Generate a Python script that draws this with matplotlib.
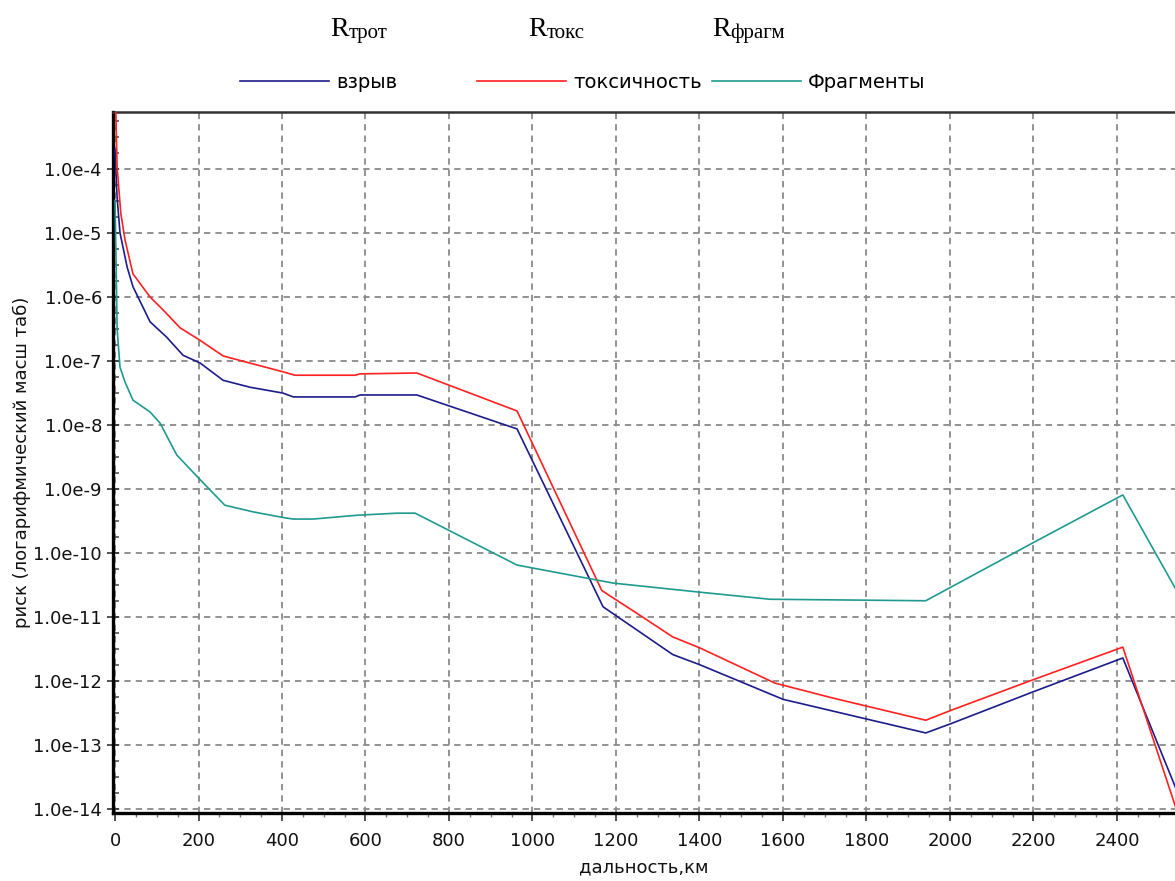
import numpy as np
import matplotlib
matplotlib.use("Agg")
import matplotlib.pyplot as plt
from matplotlib.ticker import MultipleLocator, FixedLocator, FuncFormatter

# дальность, км и риск по трём сценариям
dist_vzryv = [0, 5, 12, 29, 43, 84, 124, 163, 204, 259, 323, 402, 427, 575, 587, 723,
              963, 1169, 1336, 1401, 1600, 1760, 1942, 2005, 2199, 2414, 2540]
risk_vzryv = [2.0e-4, 3.6e-5, 1.0e-5, 2.95e-6, 1.45e-6, 4.1e-7, 2.35e-7, 1.23e-7, 9.3e-8,
              5.0e-8, 3.9e-8, 3.16e-8, 2.75e-8, 2.75e-8, 2.95e-8, 2.95e-8, 8.7e-9, 1.45e-11,
              2.6e-12, 1.8e-12, 5.2e-13, 2.95e-13, 1.55e-13, 2.2e-13, 6.8e-13, 2.3e-12, 2.2e-14]

dist_toks = [0, 2, 5, 14, 24, 43, 84, 115, 156, 204, 259, 323, 402, 431, 575, 587, 723,
             963, 1166, 1264, 1336, 1401, 1581, 1712, 1760, 1942, 2005, 2199, 2414, 2540]
risk_toks = [3.0e-3, 7.6e-4, 1.07e-4, 2.0e-5, 7.8e-6, 2.3e-6, 1.0e-6, 6.3e-7, 3.3e-7, 2.1e-7,
             1.2e-7, 9.3e-8, 6.8e-8, 6.0e-8, 6.0e-8, 6.3e-8, 6.5e-8, 1.66e-8, 2.6e-11, 1.0e-11,
             4.9e-12, 3.3e-12, 9.3e-13, 5.6e-13, 4.7e-13, 2.45e-13, 3.55e-13, 1.05e-12, 3.4e-12,
             1.1e-14]

dist_frag = [0, 3, 5, 12, 24, 43, 84, 108, 148, 204, 263, 331, 402, 427, 474, 580, 675, 719,
             963, 1193, 1401, 1569, 1942, 2199, 2414, 2540]
risk_frag = [3.2e-5, 2.5e-6, 3.2e-7, 8.0e-8, 4.7e-8, 2.45e-8, 1.6e-8, 1.07e-8, 3.4e-9, 1.4e-9,
             5.6e-10, 4.4e-10, 3.6e-10, 3.4e-10, 3.4e-10, 3.9e-10, 4.2e-10, 4.2e-10, 6.5e-11,
             3.4e-11, 2.45e-11, 1.9e-11, 1.8e-11, 1.45e-10, 8.1e-10, 2.8e-11]

series_names = ['взрыв', 'токсичность', 'Фрагменты']
series_colors = ['#1c1c8a', '#ff2020', '#1f9a90']
title_subs = ['трот', 'токс', 'фрагм']

W, H = 1175, 881
fig = plt.figure(figsize=(W / 100, H / 100), dpi=100)
ax = fig.add_axes([113 / W, 68 / H, (W - 113) / W, 701 / H])

ax.set_yscale('log')
ax.set_xlim(-4.8, 2539)
ax.set_ylim(10 ** -14.06, 10 ** -3.11)

lines = []
for xs, ys, c, n in zip([dist_vzryv, dist_toks, dist_frag],
                        [risk_vzryv, risk_toks, risk_frag],
                        series_colors, series_names):
    ln, = ax.plot(xs, ys, color=c, lw=1.2, label=n, zorder=3)
    lines.append(ln)

# сетка и оси
ax.set_axisbelow(True)
ax.grid(True, which='major', color='#8a8a8a', lw=1.3, linestyle=(0, (3.5, 2.8)))
ax.xaxis.set_major_locator(MultipleLocator(200))
ax.xaxis.set_minor_locator(MultipleLocator(50))
ax.yaxis.set_major_locator(FixedLocator([10.0 ** k for k in range(-14, -3)]))
minor = [10.0 ** v for v in np.arange(-14, -3, 0.25) if v % 1 != 0]
ax.yaxis.set_minor_locator(FixedLocator(minor))
ax.yaxis.set_major_formatter(FuncFormatter(lambda v, p: '1.0e%d' % round(np.log10(v))))
ax.yaxis.set_minor_formatter(FuncFormatter(lambda v, p: ''))

ax.tick_params(axis='both', which='major', labelsize=13, colors='#333333', labelcolor='#111111')
ax.tick_params(axis='y', which='major', direction='inout', length=8, width=1.2, pad=4)
ax.tick_params(axis='y', which='minor', direction='in', length=4, width=1.2, colors='#555555')
ax.tick_params(axis='x', which='major', direction='out', length=6, width=1.2, pad=8)
ax.tick_params(axis='x', which='minor', direction='out', length=3, width=1.0, colors='#777777')

for s in ['left', 'bottom']:
    ax.spines[s].set_linewidth(2.4)
    ax.spines[s].set_color('black')
ax.spines['top'].set_linewidth(1.8)
ax.spines['top'].set_color('#333333')
ax.spines['right'].set_visible(False)

ax.set_xlabel('дальность,км', fontsize=13, color='#111111', labelpad=6)
ax.set_ylabel('риск (логарифмический масш таб)', fontsize=13, color='#111111')
ax.yaxis.set_label_coords(-82 / (W - 113), 0.5)

# легенда: каждая запись отдельно
leg_x = [240, 477, 712]
for ln, lx in zip(lines, leg_x):
    fig.legend(handles=[ln], loc='center left', bbox_to_anchor=(lx / W, 1 - 82 / H),
               frameon=False, fontsize=14, handlelength=4.6, handletextpad=0.35,
               borderpad=0, borderaxespad=0)

# подписи R с индексами
title_x = [330, 528, 712]
fig.canvas.draw()
renderer = fig.canvas.get_renderer()
for tx, sub in zip(title_x, title_subs):
    t = fig.text(tx / W, 1 - 36 / H, 'R', fontsize=20, family='Liberation Serif',
                 va='baseline', ha='left')
    bb = t.get_window_extent(renderer=renderer)
    fig.text(bb.x1 / W, 1 - 38 / H, sub, fontsize=15, family='Liberation Serif',
             va='baseline', ha='left')

fig.savefig('out.png', dpi=100)
